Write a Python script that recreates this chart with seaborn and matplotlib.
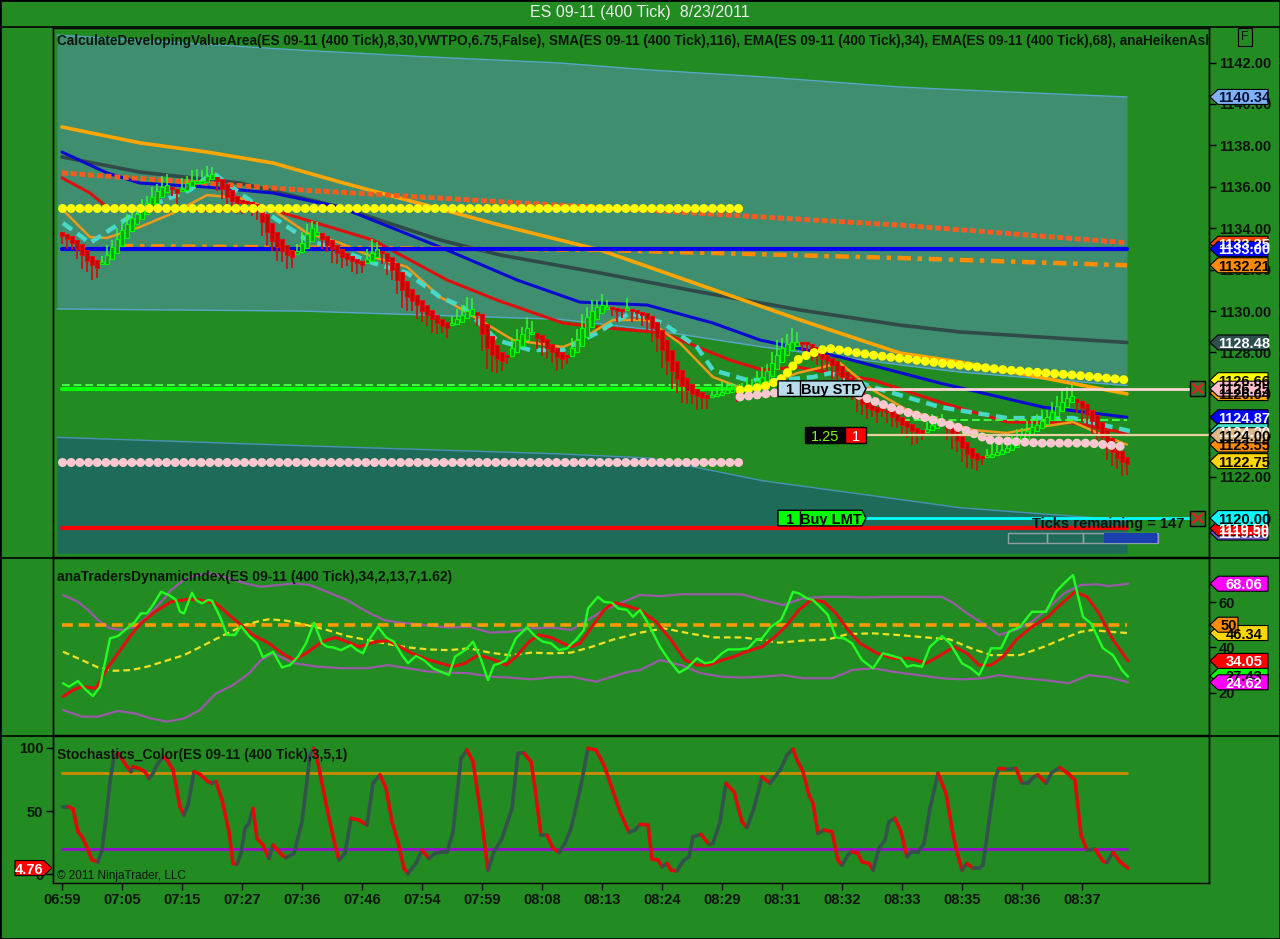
import numpy as np
import pandas as pd
import seaborn as sns
import matplotlib
matplotlib.use('Agg')
import matplotlib.pyplot as plt
from matplotlib.patches import Polygon, Rectangle
from matplotlib.lines import Line2D
from matplotlib.collections import LineCollection
from matplotlib.transforms import blended_transform_factory

# ---------------- data ----------------
time_labels = ['06:59', '07:05', '07:15', '07:27', '07:36', '07:46', '07:54', '07:59', '08:08',
               '08:13', '08:24', '08:29', '08:31', '08:32', '08:33', '08:35', '08:36', '08:37']
label_every = 12  # bars between time labels

# heiken ashi closes, one per bar
ha_close = [1133.6, 1133.5, 1133.3, 1133.0, 1132.7, 1132.4, 1132.2, 1132.1,
            1132.3, 1132.7, 1133.1, 1133.5, 1133.9, 1134.2, 1134.5, 1134.7, 1134.9, 1135.2, 1135.5, 1135.8,
            1136.0, 1136.1, 1135.9, 1135.7, 1135.9, 1136.2, 1136.3, 1136.2, 1136.3, 1136.5, 1136.6,
            1136.3, 1135.9, 1135.5, 1135.3, 1135.2, 1135.2, 1135.2, 1135.1, 1134.9, 1134.3, 1133.8, 1133.4,
            1133.1, 1132.9, 1132.7, 1132.6,
            1132.9, 1133.3, 1133.7, 1134.0,
            1133.8, 1133.5, 1133.2, 1133.0, 1132.8, 1132.6, 1132.5, 1132.4, 1132.3, 1132.2,
            1132.5, 1132.8, 1133.0,
            1132.8, 1132.4, 1132.0, 1131.5, 1131.0, 1130.7, 1130.5, 1130.3, 1130.0, 1129.8, 1129.6, 1129.4,
            1129.3, 1129.2,
            1129.4, 1129.6, 1129.8, 1130.0, 1130.1,
            1129.8, 1128.9, 1128.2, 1127.9, 1127.7, 1127.6,
            1127.8, 1128.2, 1128.6, 1128.9, 1129.2,
            1129.0, 1128.7, 1128.5, 1128.2, 1128.0, 1127.8, 1127.7,
            1127.8, 1128.2, 1128.6, 1129.2, 1129.7, 1130.0, 1130.2, 1130.3, 1130.2,
            1130.1, 1130.0, 1130.0, 1130.1, 1130.0, 1129.9, 1129.8,
            1129.6, 1129.2, 1128.7, 1128.1, 1127.6, 1127.1, 1126.7, 1126.4, 1126.2, 1126.0, 1125.9, 1125.8,
            1125.8,
            1125.9, 1126.0, 1126.1, 1126.2, 1126.2, 1126.1, 1126.2, 1126.3, 1126.4, 1126.6, 1126.8, 1127.1,
            1127.5, 1127.9, 1128.2, 1128.4, 1128.5, 1128.5, 1128.4, 1128.4,
            1128.1, 1127.9, 1127.7, 1127.6, 1127.4, 1127.1, 1126.8, 1126.5, 1126.2, 1125.8, 1125.5, 1125.3,
            1125.2, 1125.1,
            1125.2, 1125.1, 1124.9, 1124.7, 1124.5, 1124.4, 1124.2, 1124.1, 1124.1,
            1124.3, 1124.5, 1124.6,
            1124.5, 1124.3, 1124.0, 1123.7, 1123.4, 1123.1, 1122.9, 1122.8,
            1122.9, 1123.0, 1123.1, 1123.2, 1123.3, 1123.4, 1123.6, 1123.8, 1124.0, 1124.2, 1124.4, 1124.5,
            1124.7, 1124.9, 1125.1, 1125.4, 1125.6, 1125.8, 1125.9,
            1125.6, 1125.3, 1125.0, 1124.7, 1124.3, 1123.9, 1123.5, 1123.2, 1122.9, 1122.7, 1122.6]

# wick length per bar, in ticks (0.25)
wick_ticks = [2, 3, 2, 3, 4, 3, 4, 3,
              2, 3, 2, 3, 2, 3, 3, 2, 3, 2, 3, 2, 3, 3,
              2, 3,
              3, 2, 3, 4, 3, 3, 2,
              3, 3, 4, 2, 3, 3, 2, 3, 3, 4, 4, 3, 4, 3, 4, 3,
              2, 3, 3, 2,
              3, 3, 2, 4, 3, 3, 2, 3, 3, 2,
              3, 4, 2,
              3, 4, 3, 4, 5, 4, 3, 4, 3, 3, 4, 3, 2, 3,
              2, 3, 3, 4, 3,
              3, 5, 6, 5, 4, 3,
              2, 3, 3, 2, 3,
              3, 3, 4, 3, 3, 4, 3,
              2, 3, 3, 4, 3, 3, 2, 3, 2,
              2, 3, 2, 3, 3, 2, 3,
              3, 4, 4, 5, 4, 5, 4, 5, 4, 3, 4, 3, 3,
              2, 2, 3, 2, 2, 3, 2, 3, 2, 3, 3, 2, 3, 4, 3, 3, 4, 3, 2, 2,
              3, 3, 4, 3, 4, 3, 4, 4, 3, 4, 3, 3, 2, 3, 2, 3, 3, 2, 3, 3, 4, 3, 2,
              2, 3, 2,
              3, 3, 4, 3, 4, 4, 3, 3,
              2, 2, 3, 2, 2, 3, 2, 3, 2, 3, 2, 3, 3, 2, 3, 3, 4, 3, 3,
              3, 4, 3, 4, 4, 3, 4, 4, 3, 4, 3]

# value area bands
band_bar = [-1, 47.6, 73.6, 99.6, 117.6, 140.2, 167.6, 179.6, 213]
vah_top = [1143.33, 1142.6, 1142.27, 1141.98, 1141.64, 1141.31, 1140.82, 1140.68, 1140.34]
vah_bot = [1130.1, 1130.0, 1129.8, 1129.6, 1129.1, 1128.26, 1127.4, 1127.05, 1126.4]
val_top = [1123.9, 1123.5, 1123.3, 1123.1, 1122.9, 1121.8, 1120.9, 1120.5, 1119.9]
val_bot = 1118.3

# moving averages (bar, price)
sma_bar = [0, 15.6, 35.6, 55.6, 75.6, 87.6, 107.6, 127.6, 147.6, 167.6, 179.6, 213]
sma_val = [1137.44, 1136.71, 1136.18, 1135.02, 1133.43, 1132.71, 1131.84, 1130.92, 1130.05, 1129.32,
           1128.99, 1128.48]
slow_bar = [0, 15.6, 29, 42.2, 55.6, 69, 87.6, 107.6, 127.6, 147.6, 167.6, 179.6, 213]
slow_val = [1138.89, 1138.12, 1137.68, 1137.15, 1136.23, 1135.36, 1134.15, 1132.95, 1131.26, 1129.57,
            1127.97, 1127.54, 1126.0]
blue_bar = [0, 9, 15.6, 29, 42.2, 55.6, 75.6, 91, 103.6, 117, 130.2, 139.6, 155.6, 175.6, 196.2, 213]
blue_val = [1137.68, 1136.67, 1136.18, 1135.99, 1135.7, 1135.02, 1133.09, 1131.5, 1130.43, 1130.29,
            1129.42, 1128.6, 1127.78, 1126.52, 1125.36, 1124.87]
red_bar = [0, 5.6, 9, 15.6, 22.2, 42.2, 62.2, 77, 87, 100.2, 107, 120.2, 133.6, 140.2, 147, 162.2,
           175.6, 189, 202.2, 213]
red_val = [1136.43, 1135.7, 1135.02, 1134.88, 1134.88, 1134.88, 1133.43, 1131.5, 1130.53, 1129.42,
           1129.23, 1128.94, 1127.63, 1127.15, 1127.29, 1126.67, 1125.6, 1124.64, 1124.59, 1124.1]
fast_bar = [0.2, 5.6, 9, 15.6, 22.2, 29, 35.6, 42.2, 49, 55.6, 62.2, 69, 75.6, 80.2, 90.2, 100.2, 103.6,
            110.2, 117, 123.6, 130.2, 137, 143.6, 147, 155.6, 162.2, 169, 175.6, 182.2, 189, 195.6,
            202.2, 209, 213]
fast_val = [1134.88, 1133.57, 1133.53, 1134.06, 1134.73, 1135.6, 1135.46, 1134.88, 1133.77, 1133.29,
            1132.61, 1132.13, 1130.68, 1130.05, 1128.6, 1128.26, 1128.6, 1129.57, 1129.57, 1128.45,
            1126.81, 1126.18, 1126.67, 1127.0, 1127.49, 1126.18, 1125.22, 1124.73, 1124.25, 1124.11,
            1124.4, 1124.64, 1123.91, 1123.55]
turq_bar = [0.2, 5.6, 15.6, 25.6, 30.2, 35.6, 42.2, 49, 55.6, 62.2, 69, 75.6, 80.2, 87, 93.6, 100.2,
            107, 113.6, 120.2, 127, 130.2, 137, 143.6, 150.2, 153.6, 162.2, 175.6, 189, 202.2, 213.6]
turq_val = [1134.25, 1133.29, 1134.88, 1135.85, 1136.67, 1135.7, 1134.54, 1133.43, 1132.95, 1132.32,
            1131.84, 1130.68, 1130.19, 1128.6, 1128.12, 1128.12, 1128.94, 1129.9, 1129.42, 1128.26,
            1127.15, 1126.67, 1126.67, 1126.81, 1127.0, 1126.33, 1125.36, 1124.83, 1124.83, 1124.2]
vwap_bar = [0, 47.6, 107.6, 167.6, 213]
vwap_val = [1136.67, 1135.85, 1135.0, 1134.15, 1133.3]
dashdot_bar = [11.6, 107.6, 167.6, 213]
dashdot_val = [1133.14, 1132.95, 1132.56, 1132.21]
ydot_bar = [135.6, 140.2, 143.6, 145.6, 147, 149, 153, 162.2, 175.6, 189, 202.2, 213]
ydot_val = [1126.18, 1126.33, 1126.67, 1127.15, 1127.63, 1127.87, 1128.21, 1127.87, 1127.49, 1127.15,
            1126.91, 1126.67]
pdot_bar = [135.6, 142.2, 155.6, 160.2, 165.6, 172.2, 179, 185.6, 195.6, 205.6, 213]
pdot_val = [1125.85, 1126.04, 1126.33, 1125.85, 1125.36, 1124.88, 1124.4, 1123.77, 1123.62, 1123.62,
            1123.43]

# horizontal levels
prior_end = 135.6
level_yellow = 1135.0
level_blue = 1133.0
level_lime = 1126.23
level_lime_dash = 1126.43
level_poc_dash = 1124.73
level_pink = 1122.7
level_red = 1119.5
buy_stp = 1126.25
position = 1124.0
buy_lmt = 1120.0

price_tags = [(1140.34, '#7fb2f5', '#0a1030'), (1133.25, '#ff4500', 'white'), (1133.00, '#0000ff', 'white'),
              (1132.21, '#ff8c00', 'black'), (1128.48, '#2f4f4f', 'white'), (1126.66, '#ffff00', 'black'),
              (1126.04, '#ffa500', 'black'), (1126.25, '#ffc0cb', 'black'), (1124.87, '#0000ff', 'white'),
              (1124.20, '#40e0d0', 'white'), (1123.55, '#ff8c00', 'black'), (1124.00, '#deb887', 'black'),
              (1122.75, '#ffd700', 'black'), (1119.30, '#6a5acd', 'white'), (1119.50, '#ff0000', 'white'),
              (1120.00, '#00ffff', 'black')]

# traders dynamic index
tdi_green_bar = [0.2, 1.4, 3.2, 4.8, 6.2, 7.6, 9.6, 11.2, 13.0, 14.6, 15.8, 17.0, 18.2, 19.8, 21.4, 22.8,
                 23.6, 24.4, 26.0, 26.8, 28.0, 29.2, 30.0, 31.6, 33.0, 34.6, 35.8, 37.4, 39.0, 40.2, 42.2,
                 44.0, 45.6, 47.2, 48.8, 50.4, 52.0, 53.0, 54.2, 55.8, 57.8, 59.0, 60.2, 61.4, 63.2, 64.8,
                 66.4, 68.0, 69.2, 70.8, 72.4, 74.2, 75.8, 77.4, 78.6, 80.6, 82.2, 83.6, 85.2, 86.4, 87.6,
                 88.8, 90.8, 93.0, 94.6, 96.2, 97.8, 99.4, 101.0, 102.8, 104.4, 105.2, 107.2, 108.4, 110.0,
                 111.2, 113.0, 114.2, 115.6,
                 117.2, 119.6, 121.4, 123.4, 125.0, 127.0, 128.6, 130.2, 132.0, 133.2, 135.2, 137.2, 138.8,
                 140.0, 141.8, 143.8, 145.0, 146.2, 147.4, 149.0, 150.2, 151.6, 153.2, 154.0, 154.8, 156.4,
                 158.0, 160.0, 162.2, 164.2, 166.2, 167.8, 169.0, 170.2, 172.0, 173.6, 176.0, 177.6, 180.0,
                 181.8, 183.4, 184.6, 185.8, 187.8, 189.4, 191.6, 194.0, 196.8, 198.8, 200.4, 202.2, 204.2,
                 205.8, 208.2, 210.2, 212.0, 213.2]
tdi_green_val = [24.2, 22.7, 25.2, 21.2, 18.6, 22.7, 44.0, 45.0, 48.4, 51.3, 55.0, 55.0, 58.7, 64.5, 63.1,
                 60.9, 55.7, 55.0, 64.1, 60.9, 59.4, 60.9, 60.6, 53.5, 45.5, 45.5, 49.4, 45.0, 41.8, 35.6,
                 38.1, 31.2, 32.2, 35.9, 41.8, 50.9, 41.8, 40.3, 40.0, 38.8, 41.0, 38.8, 37.4, 43.3, 49.1,
                 44.4, 42.5, 36.6, 33.0, 36.2, 34.4, 30.8, 29.3, 27.8, 35.9, 38.8, 42.5, 35.9, 25.6, 32.2,
                 33.0, 34.4, 44.0, 48.8, 45.0, 42.5, 41.8, 38.8, 39.6, 43.3, 47.7, 57.2, 62.3, 60.1, 59.7,
                 57.2, 56.5, 53.5, 56.5,
                 50.6, 40.3, 34.4, 28.9, 30.8, 35.2, 33.0, 33.7, 37.4, 39.1, 39.1, 39.6, 43.3, 44.0, 49.1,
                 52.1, 57.9, 64.5, 63.8, 61.6, 60.9, 57.9, 54.3, 49.1, 44.4, 44.0, 41.8, 34.4, 30.8, 37.4,
                 36.2, 35.2, 31.5, 32.2, 31.5, 40.3, 45.0, 41.8, 33.0, 30.8, 27.8, 33.0, 39.6, 39.6, 46.9,
                 49.1, 55.7, 55.7, 64.5, 68.2, 71.9, 53.5, 50.6, 39.6, 36.6, 30.0, 27.1]
tdi_red_bar = [0.2, 2.2, 4.0, 6.8, 8.8, 11.2, 13.8, 15.8, 18.6, 21.8, 25.2, 27.6, 30.8, 33.4, 35.8, 38.2,
               41.4, 44.0, 46.4, 48.8, 52.0, 54.6, 57.0, 59.4, 62.8, 65.2, 67.6, 70.0, 73.4, 75.8, 78.2,
               80.6, 83.2, 85.6, 88.8, 90.8, 93.4, 95.4, 97.8, 100.2, 101.8, 103.6, 106.0, 108.4, 110.4,
               112.4, 115.6,
               118.8, 121.8, 124.6, 127.0, 129.4, 132.0, 134.4, 136.8, 140.0, 142.6, 145.0, 147.4, 149.8,
               152.4, 154.8, 157.2, 159.6, 163.0, 166.2, 169.4, 172.8, 175.2, 178.4, 181.0, 183.4, 185.8,
               188.2, 190.8, 194.0, 197.2, 199.6, 202.6, 205.0, 207.4, 210.2, 213.2]
tdi_red_val = [18.3, 21.2, 22.7, 22.0, 30.0, 37.4, 45.5, 50.6, 55.7, 60.1, 61.2, 60.9, 59.4, 54.3, 49.9,
               45.5, 41.8, 37.4, 34.4, 37.4, 42.5, 44.4, 42.5, 40.3, 42.5, 43.0, 40.3, 37.4, 34.4, 33.0,
               31.5, 33.0, 36.6, 35.2, 32.2, 35.9, 42.5, 45.5, 44.4, 41.8, 40.3, 41.8, 49.1, 56.5, 59.7,
               58.7, 56.5,
               51.3, 43.3, 34.4, 32.2, 32.2, 34.4, 35.9, 38.1, 40.3, 44.7, 49.9, 56.5, 60.9, 60.1, 55.0,
               47.7, 41.8, 37.4, 35.2, 35.2, 33.0, 35.9, 40.3, 37.4, 32.2, 32.2, 35.9, 43.3, 49.1, 53.5,
               58.7, 64.5, 62.3, 55.0, 43.3, 34.05]
tdi_mid_bar = [0.2, 4.0, 7.2, 10.4, 13.8, 17.0, 20.2, 24.4, 28.4, 32.4, 36.6, 39.8, 41.4, 44.8, 48.8,
               53.0, 57.0, 61.0, 65.2, 69.2, 73.4, 77.4, 81.4, 85.6, 89.6, 93.8, 97.8, 101.8, 106.0,
               110.0, 115.6,
               120.4, 125.4, 130.2, 136.0, 140.0, 143.4, 148.2, 153.2, 157.2, 162.2, 167.0, 172.8, 177.6,
               181.8, 185.8, 191.6, 196.4, 200.4, 203.8, 206.2, 209.4, 213.2]
tdi_mid_val = [38.1, 34.4, 31.2, 29.7, 30.0, 31.5, 33.7, 36.6, 41.0, 45.5, 49.9, 51.8, 52.4, 51.8, 49.9,
               47.7, 45.0, 43.3, 41.5, 40.0, 39.1, 38.8, 39.6, 37.7, 36.5, 37.7, 37.4, 37.7, 40.3, 43.3,
               46.5,
               48.4, 46.2, 44.4, 44.4, 43.3, 42.1, 43.0, 43.5, 45.9, 46.2, 45.5, 44.4, 43.5, 39.6, 36.6,
               36.6, 40.3, 44.0, 46.9, 47.7, 46.9, 46.34]
tdi_up_bar = [0.2, 3.2, 5.2, 7.2, 9.6, 12.0, 14.6, 17.0, 20.2, 21.8, 24.4, 26.8, 30.0, 33.4, 36.6, 39.8,
              43.2, 46.4, 49.6, 53.0, 57.0, 61.0, 64.4, 67.6, 70.8, 74.2, 77.4, 81.4, 85.6, 89.6, 93.8,
              97.8, 101.8, 105.2, 108.4, 111.6, 115.6,
              119.6, 123.8, 132.0, 136.0, 140.0, 144.2, 148.2, 152.4, 156.4, 160.4, 164.6, 168.6, 172.8,
              176.0, 178.4, 181.0, 184.2, 187.4, 190.8, 194.0, 197.2, 200.4, 203.8, 207.0, 209.4, 213.2]
tdi_up_val = [63.1, 60.1, 56.5, 52.1, 48.4, 47.7, 49.1, 53.5, 60.9, 65.3, 69.7, 71.9, 72.6, 70.4, 68.2,
              66.7, 67.5, 68.2, 67.5, 64.5, 60.9, 55.7, 52.1, 50.9, 50.3, 49.4, 48.8, 49.1, 46.5, 46.9,
              48.4, 48.8, 47.7, 52.1, 56.5, 59.4, 63.1,
              62.6, 63.4, 63.4, 63.4, 60.9, 58.7, 61.6, 62.3, 62.3, 62.0, 62.3, 62.3, 62.3, 62.3, 59.4,
              55.0, 50.6, 45.5, 47.7, 51.3, 57.2, 63.8, 67.5, 67.8, 67.0, 68.06]
tdi_lo_bar = [0.2, 4.0, 7.2, 11.2, 14.6, 17.8, 21.0, 24.4, 27.6, 30.8, 34.2, 37.4, 39.8, 42.2, 46.4, 51.2,
              56.2, 61.0, 65.2, 69.2, 73.4, 77.4, 81.4, 85.6, 89.6, 93.8, 97.8, 101.8, 106.8, 110.0,
              113.4, 115.6,
              119.6, 123.8, 127.8, 132.0, 136.0, 140.0, 144.2, 148.2, 154.0, 158.0, 162.2, 166.2, 171.2,
              176.0, 180.0, 184.2, 187.4, 192.4, 196.4, 201.4, 205.4, 209.4, 213.2]
tdi_lo_val = [12.4, 9.5, 9.5, 12.0, 10.9, 8.7, 7.3, 8.7, 12.4, 19.7, 23.4, 28.6, 34.4, 37.4, 33.0, 31.5,
              30.8, 30.8, 32.2, 30.8, 29.3, 28.9, 28.6, 27.1, 26.7, 25.9, 26.8, 27.1, 24.9, 27.1, 29.3,
              30.0,
              34.4, 32.2, 28.6, 27.1, 26.7, 27.1, 27.8, 26.4, 26.4, 30.0, 30.8, 29.3, 27.8, 26.4, 25.9,
              26.4, 27.8, 26.4, 25.6, 24.2, 27.8, 26.8, 24.62]
tdi_level = 50
tdi_tags = [(68.06, '#ff00ff', 'white'), (27.43, '#00ff00', 'black'), (24.62, '#ff00ff', 'white'),
            (46.34, '#ffd700', 'black'), (34.05, '#ff0000', 'white')]

# stochastics
stoch_bar = [0.2, 1.4, 2.2, 3.2, 4.0, 4.8, 6.0, 7.2, 8.0, 8.8, 9.6, 10.4, 11.2, 12.0, 13.0, 13.8, 14.2,
             15.4, 16.6, 17.4, 18.2, 19.0, 20.2, 21.0, 22.2, 23.6, 24.4, 25.2, 26.4, 27.6, 29.2, 30.0,
             30.8, 32.0, 33.4, 34.2, 35.0, 35.8, 36.6, 37.4, 38.2, 39.0, 40.2, 41.4, 42.2, 44.0, 44.8,
             46.4, 48.0, 49.6, 50.4, 51.2, 53.0, 54.6, 55.4, 56.6, 57.8, 59.4, 61.0, 62.2, 63.6, 64.8,
             66.0, 67.2, 68.4, 69.2, 70.0, 70.8, 72.0, 73.4, 74.6, 75.8, 77.0, 78.2, 79.8, 81.0, 82.2,
             83.6, 85.2, 86.4, 88.0, 90.0, 91.2, 92.4, 93.8, 94.6, 95.8, 97.0, 98.2, 99.4, 100.6, 101.8,
             103.6, 105.2, 106.8, 108.4, 110.0, 111.6, 113.4, 114.6, 115.6,
             117.2, 118.0, 119.2, 120.0, 121.0, 121.8, 123.0, 124.2, 125.4, 126.2, 127.8, 129.4, 130.2,
             131.6, 132.8, 134.4, 136.0, 137.0, 138.4, 140.0, 141.6, 142.6, 143.8, 145.0, 146.2, 147.0,
             148.2, 149.4, 150.2, 151.2, 152.4, 154.0, 155.2, 156.0, 157.2, 158.0, 159.2, 160.0, 161.4,
             162.2, 163.4, 164.6, 165.4, 166.6, 167.8, 169.0, 169.8, 171.2, 172.4, 173.6, 175.2, 176.8,
             178.0, 178.8, 180.0, 181.0, 182.2, 183.4, 184.2, 185.4, 186.6, 187.4, 189.0, 190.8, 192.0,
             193.2, 194.4, 195.2, 196.8, 198.0, 199.6, 201.4, 202.6, 203.8, 205.0, 206.6, 208.2, 209.0,
             210.2, 211.6, 213.2]
stoch_val = [53.4, 53.4, 51.6, 33.6, 29.6, 23.0, 11.1, 9.8, 19.0, 44.2, 73.3, 93.1, 95.8, 91.3, 85.2,
             81.2, 85.2, 83.8, 81.2, 75.9, 79.9, 86.5, 93.1, 90.5, 82.5, 53.4, 46.8, 54.7, 81.2, 79.1,
             73.3, 72.0, 73.3, 58.7, 33.6, 8.4, 7.7, 16.4, 36.2, 40.2, 52.1, 28.3, 23.0, 12.4, 23.0,
             15.1, 12.9, 16.4, 41.5, 94.4, 99.7, 87.8, 52.1, 23.0, 11.1, 16.4, 44.2, 42.8, 38.9, 72.0,
             78.6, 68.0, 41.5, 25.6, 4.5, 0.5, 4.5, 8.4, 19.0, 12.4, 16.4, 17.2, 17.2, 33.6, 91.8, 98.4,
             89.1, 52.1, 3.2, 17.7, 28.3, 52.1, 95.8, 95.8, 89.1, 68.0, 30.9, 30.9, 20.4, 17.2, 24.3,
             36.2, 66.6, 99.7, 98.4, 86.5, 68.0, 49.5, 33.1, 34.9, 39.4,
             38.9, 11.9, 11.1, 5.8, 8.4, 3.2, 2.4, 10.3, 13.7, 29.6, 31.5, 23.5, 24.3, 41.5, 72.0, 65.3,
             41.5, 36.8, 52.1, 77.2, 72.0, 77.2, 83.8, 94.4, 99.2, 90.5, 81.2, 62.7, 56.1, 32.3, 34.9,
             33.6, 11.1, 7.1, 15.1, 17.7, 16.4, 9.8, 8.4, 3.2, 20.4, 27.0, 41.5, 44.2, 33.6, 13.7, 17.2,
             17.2, 24.3, 52.1, 79.9, 64.0, 36.2, 20.4, 3.2, 8.4, 4.5, 4.5, 7.1, 41.5, 75.9, 83.8, 83.1,
             83.8, 72.0, 72.0, 77.2, 78.6, 72.0, 80.7, 84.4, 79.1, 74.6, 30.9, 19.0, 19.8, 10.3, 9.2,
             17.2, 9.8, 4.76]
stoch_upper = 80
stoch_lower = 20

# ---------------- styling ----------------
BG = '#228b22'
W, H = 1280, 939
sns.set_theme(style='ticks')
plt.rcParams['font.family'] = ['Liberation Sans', 'DejaVu Sans']
plt.rcParams['axes.edgecolor'] = 'black'
TXT = '#0c160c'

fig = plt.figure(figsize=(W / 100, H / 100), dpi=100, facecolor=BG)
x_lo, x_hi = -1.8, 229.4


def fig_box(top, bottom):
    return [53 / W, 1 - bottom / H, 1156 / W, (bottom - top) / H]


ax1 = fig.add_axes(fig_box(28, 557))
ax2 = fig.add_axes(fig_box(558, 735))
ax3 = fig.add_axes(fig_box(736, 883))
for ax in (ax1, ax2, ax3):
    ax.set_facecolor(BG)
    ax.set_xlim(x_lo, x_hi)
    for sp in ax.spines.values():
        sp.set_color('black')
        sp.set_linewidth(1)


def right_tag(ax, val, txt, fc, tc, ppu, x_end=1268):
    tr = blended_transform_factory(ax.transAxes, ax.transData)
    hh = 7.5 / ppu
    xa, xb, xc = (1210 - 53) / 1156, (1218 - 53) / 1156, (x_end - 53) / 1156
    ax.add_patch(Polygon([(xa, val), (xb, val + hh), (xc, val + hh), (xc, val - hh), (xb, val - hh)],
                         closed=True, transform=tr, fc=fc, ec='black', lw=0.8, clip_on=False, zorder=30))
    ax.text((xb + xc) / 2 + 0.001, val, txt, transform=tr, ha='center', va='center_baseline', color=tc,
            fontsize=10.5, fontweight='bold', clip_on=False, zorder=31)


# ---------------- price panel ----------------
ppu1 = 529 / (1143.67 - 1118.12)
ax1.fill_between(band_bar, vah_bot, vah_top, color='#3f8e70', lw=0, zorder=1)
ax1.fill_between(band_bar, val_bot, val_top, color='#1f6b59', lw=0, zorder=1)
ax1.plot(band_bar, vah_top, color='#5aa6c8', lw=1, zorder=1.5)
ax1.plot(band_bar, vah_bot, color='#5aa6c8', lw=1, zorder=1.5)
ax1.plot(band_bar, val_top, color='#4a90b8', lw=1, zorder=1.5)

sns.lineplot(x=sma_bar, y=sma_val, ax=ax1, color='#2f4a48', lw=2.6, estimator=None, sort=False, zorder=3)
sns.lineplot(x=slow_bar, y=slow_val, ax=ax1, color='#ffa500', lw=2.6, estimator=None, sort=False, zorder=3)
sns.lineplot(x=blue_bar, y=blue_val, ax=ax1, color='#0a0ad0', lw=2.2, estimator=None, sort=False, zorder=3)
sns.lineplot(x=red_bar, y=red_val, ax=ax1, color='#dd1010', lw=2.2, estimator=None, sort=False, zorder=3)
sns.lineplot(x=fast_bar, y=fast_val, ax=ax1, color='#eb9a1c', lw=1.8, estimator=None, sort=False, zorder=3)
ax1.plot(turq_bar, turq_val, color='#48d8c8', lw=3.2, ls=(0, (2.5, 1.5)), zorder=3)
ax1.plot(vwap_bar, vwap_val, color='#ff5a1e', lw=3.5, ls=(0, (1.2, 0.6)), zorder=3)
ax1.plot(dashdot_bar, dashdot_val, color='#ff8c00', lw=3.2, ls=(0, (3, 1.5, 1, 1.5)), zorder=3)

ax1.plot([0, 213], [level_blue, level_blue], color='#0000ee', lw=3, zorder=3)
ax1.plot([0, prior_end], [level_lime_dash, level_lime_dash], color='#40ff40', lw=1.4, ls=(0, (4, 2)), zorder=3)
ax1.plot([0, prior_end], [level_lime, level_lime], color='#00ff00', lw=3, zorder=3)
ax1.plot([168, 213], [level_poc_dash, level_poc_dash], color='#40ff40', lw=1.4, ls=(0, (4, 2)), zorder=3)
ax1.plot([0, 213], [level_red, level_red], color='#ff0000', lw=3, zorder=3)

# heiken ashi candles
close = np.array(ha_close)
opens = np.empty_like(close)
opens[0] = close[0] + 0.2
for i in range(1, len(close)):
    opens[i] = (opens[i - 1] + close[i - 1]) / 2
bars = pd.DataFrame({'bar': np.arange(len(close)), 'open': opens, 'close': close,
                     'wick': np.array(wick_ticks) * 0.17})
bars['up'] = bars['close'] >= bars['open']
bars['top'] = bars[['open', 'close']].max(axis=1)
bars['bot'] = bars[['open', 'close']].min(axis=1)
up = bars[bars['up']]
dn = bars[~bars['up']]
ax1.vlines(up['bar'], up['top'], up['top'] + up['wick'], color='#30ff30', lw=1.1, zorder=4)
ax1.vlines(dn['bar'], dn['bot'] - dn['wick'], dn['bot'], color='#d01010', lw=1.3, zorder=4)
ax1.bar(up['bar'], (up['top'] - up['bot']).clip(lower=0.1), bottom=up['bot'], width=0.8,
        color='#1c9a1c', edgecolor='#00ff00', lw=0.8, zorder=4.2)
ax1.bar(dn['bar'], (dn['top'] - dn['bot']).clip(lower=0.1), bottom=dn['bot'], width=0.8,
        color='#c80000', edgecolor='#e01010', lw=0.8, zorder=4.2)

# developing levels drawn as chains of dots
dots = dict(lw=6.5, ls=(0, (0.01, 0.95)), dash_capstyle='round', zorder=5)
ax1.plot([0, prior_end], [level_yellow, level_yellow], color='#ffff00', **dots)
ax1.plot([0, prior_end], [level_pink, level_pink], color='#ffc8d0', **dots)
ax1.plot(ydot_bar, ydot_val, color='#ffff00', **dots)
ax1.plot(pdot_bar, pdot_val, color='#ffc8d0', **dots)

# order lines
ax1.plot([160.8, 225.7], [buy_stp, buy_stp], color='#ffd6d6', lw=2, zorder=6)
ax1.plot([160.8, x_hi], [position, position], color='#e8d0a0', lw=1.6, zorder=6)
ax1.plot([160.8, 225.7], [buy_lmt, buy_lmt], color='#00ffff', lw=2, zorder=6)


def order_tag(ax, price, qty, txt, fc):
    hh = 7.8 / ppu1
    ax.add_patch(Polygon([(143.2, price - hh), (160, price - hh), (160.8, price), (160, price + hh),
                          (143.2, price + hh)], closed=True, fc=fc, ec='black', lw=1, zorder=7))
    ax.plot([147.6, 147.6], [price - hh, price + hh], color='black', lw=1, zorder=7.5)
    ax.text(145.4, price, qty, ha='center', va='center_baseline', fontsize=10.5, fontweight='bold',
            color='black', zorder=8)
    ax.text(153.8, price, txt, ha='center', va='center_baseline', fontsize=10.5, fontweight='bold',
            color='black', zorder=8)


order_tag(ax1, buy_stp, '1', 'Buy STP', '#b8dcea')
order_tag(ax1, buy_lmt, '1', 'Buy LMT', '#00ff00')
hh = 7.8 / ppu1
ax1.add_patch(Rectangle((148.6, position - hh), 8.0, 2 * hh, fc='black', ec='black', zorder=7))
ax1.add_patch(Rectangle((156.6, position - hh), 4.2, 2 * hh, fc='#ff0000', ec='black', zorder=7))
ax1.text(152.6, position, '1.25', ha='center', va='center_baseline', fontsize=10.5, color='#7cfc00', zorder=8)
ax1.text(158.7, position, '1', ha='center', va='center_baseline', fontsize=10.5, color='white', zorder=8)

for lvl in (buy_stp, buy_lmt):
    bh = 7.5 / ppu1
    ax1.add_patch(Rectangle((225.7, lvl - bh), 3.0, 2 * bh, fc='#2a7a2a', ec='black', lw=1, zorder=8))
    ax1.plot([226.2, 228.2], [lvl - bh * 0.6, lvl + bh * 0.6], color='#e02020', lw=1.6, zorder=9)
    ax1.plot([226.2, 228.2], [lvl + bh * 0.6, lvl - bh * 0.6], color='#e02020', lw=1.6, zorder=9)

ax1.text(209.2, 1119.72, 'Ticks remaining = 147', ha='center', va='center', fontsize=10.5,
         fontweight='bold', color=TXT, zorder=9)
cell_edges = [189.2, 197.0, 204.2, 211.6, 219.2]
for a, b in zip(cell_edges[:-1], cell_edges[1:]):
    ax1.add_patch(Rectangle((a, 1118.78), b - a, 0.5, fc='none', ec='#8fa0a0', lw=1, zorder=8))
ax1.add_patch(Rectangle((208.4, 1118.8), 10.7, 0.46, fc='#1a3fb0', ec='none', zorder=8.5))

ax1.text((57 - 53) / 1156, 0.976, 'CalculateDevelopingValueArea(ES 09-11 (400 Tick),8,30,VWTPO,6.75,False), '
         'SMA(ES 09-11 (400 Tick),116), EMA(ES 09-11 (400 Tick),34), EMA(ES 09-11 (400 Tick),68), '
         'anaHeikenAshi(', transform=ax1.transAxes, ha='left', va='center',
         fontsize=9.8, fontweight='bold', color=TXT, clip_on=True, zorder=10)

ax1.set_ylim(1118.12, 1143.67)
ax1.yaxis.tick_right()
ax1.set_yticks(np.arange(1120, 1143, 2))
ax1.set_yticklabels([f'{v:.2f}' for v in np.arange(1120, 1143, 2)])
ax1.set_xticks([])
for v, fc, tc in price_tags:
    right_tag(ax1, v, f'{v:.2f}', fc, tc, ppu1)

# ---------------- traders dynamic index ----------------
ppu2 = 177 / (79.4 - 1.4)
sns.lineplot(x=tdi_up_bar, y=tdi_up_val, ax=ax2, color='#9a5aa8', lw=1.6, estimator=None, sort=False)
sns.lineplot(x=tdi_lo_bar, y=tdi_lo_val, ax=ax2, color='#9a5aa8', lw=1.6, estimator=None, sort=False)
ax2.plot([0, 213], [tdi_level, tdi_level], color='#ff9a00', lw=2.6, ls=(0, (3, 1.6)))
ax2.plot(tdi_mid_bar, tdi_mid_val, color='#f0e020', lw=1.6, ls=(0, (3, 1.8)))
sns.lineplot(x=tdi_red_bar, y=tdi_red_val, ax=ax2, color='#e01010', lw=2.2, estimator=None, sort=False)
sns.lineplot(x=tdi_green_bar, y=tdi_green_val, ax=ax2, color='#22ff22', lw=1.7, estimator=None, sort=False)
ax2.text((57 - 53) / 1156, 0.893, 'anaTradersDynamicIndex(ES 09-11 (400 Tick),34,2,13,7,1.62)',
         transform=ax2.transAxes, ha='left', va='center', fontsize=10, fontweight='bold', color=TXT)
ax2.set_ylim(1.4, 79.4)
ax2.yaxis.tick_right()
ax2.set_yticks([20, 40, 60])
ax2.set_xticks([])
for v, fc, tc in tdi_tags:
    right_tag(ax2, v, f'{v:.2f}', fc, tc, ppu2)
right_tag(ax2, tdi_level, '50', '#ff8c00', 'black', ppu2, x_end=1238)

# ---------------- stochastics ----------------
ppu3 = 147 / (109.5 + 7.1)
ax3.plot([0, 213], [stoch_upper, stoch_upper], color='#d08a00', lw=2)
ax3.plot([0, 213], [stoch_lower, stoch_lower], color='#9a10d0', lw=2)
pts = np.column_stack([stoch_bar, stoch_val])
segs = np.stack([pts[:-1], pts[1:]], axis=1)
seg_col = ['#e00a0a' if b < a else '#34524c' for a, b in zip(stoch_val[:-1], stoch_val[1:])]
ax3.add_collection(LineCollection(segs, colors=seg_col, linewidths=2.6, capstyle='round', zorder=3))
ax3.text((57 - 53) / 1156, 0.871, 'Stochastics_Color(ES 09-11 (400 Tick),3,5,1)', transform=ax3.transAxes,
         ha='left', va='center', fontsize=10, fontweight='bold', color=TXT, zorder=5)
ax3.text((57 - 53) / 1156, 0.05, '\u00a9 2011 NinjaTrader, LLC', transform=ax3.transAxes, ha='left',
         va='center', fontsize=8.5, color=TXT)
ax3.set_ylim(-7.1, 109.5)
ax3.set_yticks([0, 50, 100])
ax3.set_xticks(np.arange(len(time_labels)) * label_every)
ax3.set_xticklabels(time_labels)

tr3 = blended_transform_factory(ax3.transAxes, ax3.transData)
last = stoch_val[-1]
h3 = 7.5 / ppu3
xa, xb, xc = (52 - 53) / 1156, (44 - 53) / 1156, (15 - 53) / 1156
ax3.add_patch(Polygon([(xa, last), (xb, last + h3), (xc, last + h3), (xc, last - h3), (xb, last - h3)],
                      closed=True, transform=tr3, fc='#ff0000', ec='black', lw=0.8, clip_on=False, zorder=30))
ax3.text((xb + xc) / 2, last, f'{last:.2f}', transform=tr3, ha='center', va='center_baseline',
         color='white', fontsize=10.5, fontweight='bold', clip_on=False, zorder=31)

for ax in (ax1, ax2, ax3):
    ax.set_xlim(x_lo, x_hi)
    ax.tick_params(axis='both', direction='out', length=5, width=1, color='black', labelsize=10.5,
                   labelcolor=TXT, pad=2)
    for lbl in ax.get_xticklabels() + ax.get_yticklabels():
        lbl.set_fontweight('bold')

# ---------------- frame, title ----------------
for yy in (27, 557.5, 735.5):
    fig.add_artist(Line2D([0, 1], [1 - yy / H, 1 - yy / H], color='black', lw=1.2))
fig.add_artist(Rectangle((0, 0), 1, 1, transform=fig.transFigure, fill=False, ec='black', lw=2))
fig.add_artist(Line2D([53 / W, 53 / W], [1 - 883 / H, 1 - 27 / H], color='black', lw=1))
fig.add_artist(Line2D([1209 / W, 1209 / W], [1 - 883 / H, 1 - 27 / H], color='black', lw=1))
fig.text(0.5, 1 - 13 / H, 'ES 09-11 (400 Tick)  8/23/2011', ha='center', va='center', fontsize=11.5,
         color='#ececec')
fig.text(1245 / W, 1 - 37 / H, 'F', ha='center', va='center', fontsize=9, color=TXT,
         bbox=dict(boxstyle='square,pad=0.25', fc='none', ec='black', lw=0.8))

fig.savefig('out.png', dpi=100, facecolor=BG)
